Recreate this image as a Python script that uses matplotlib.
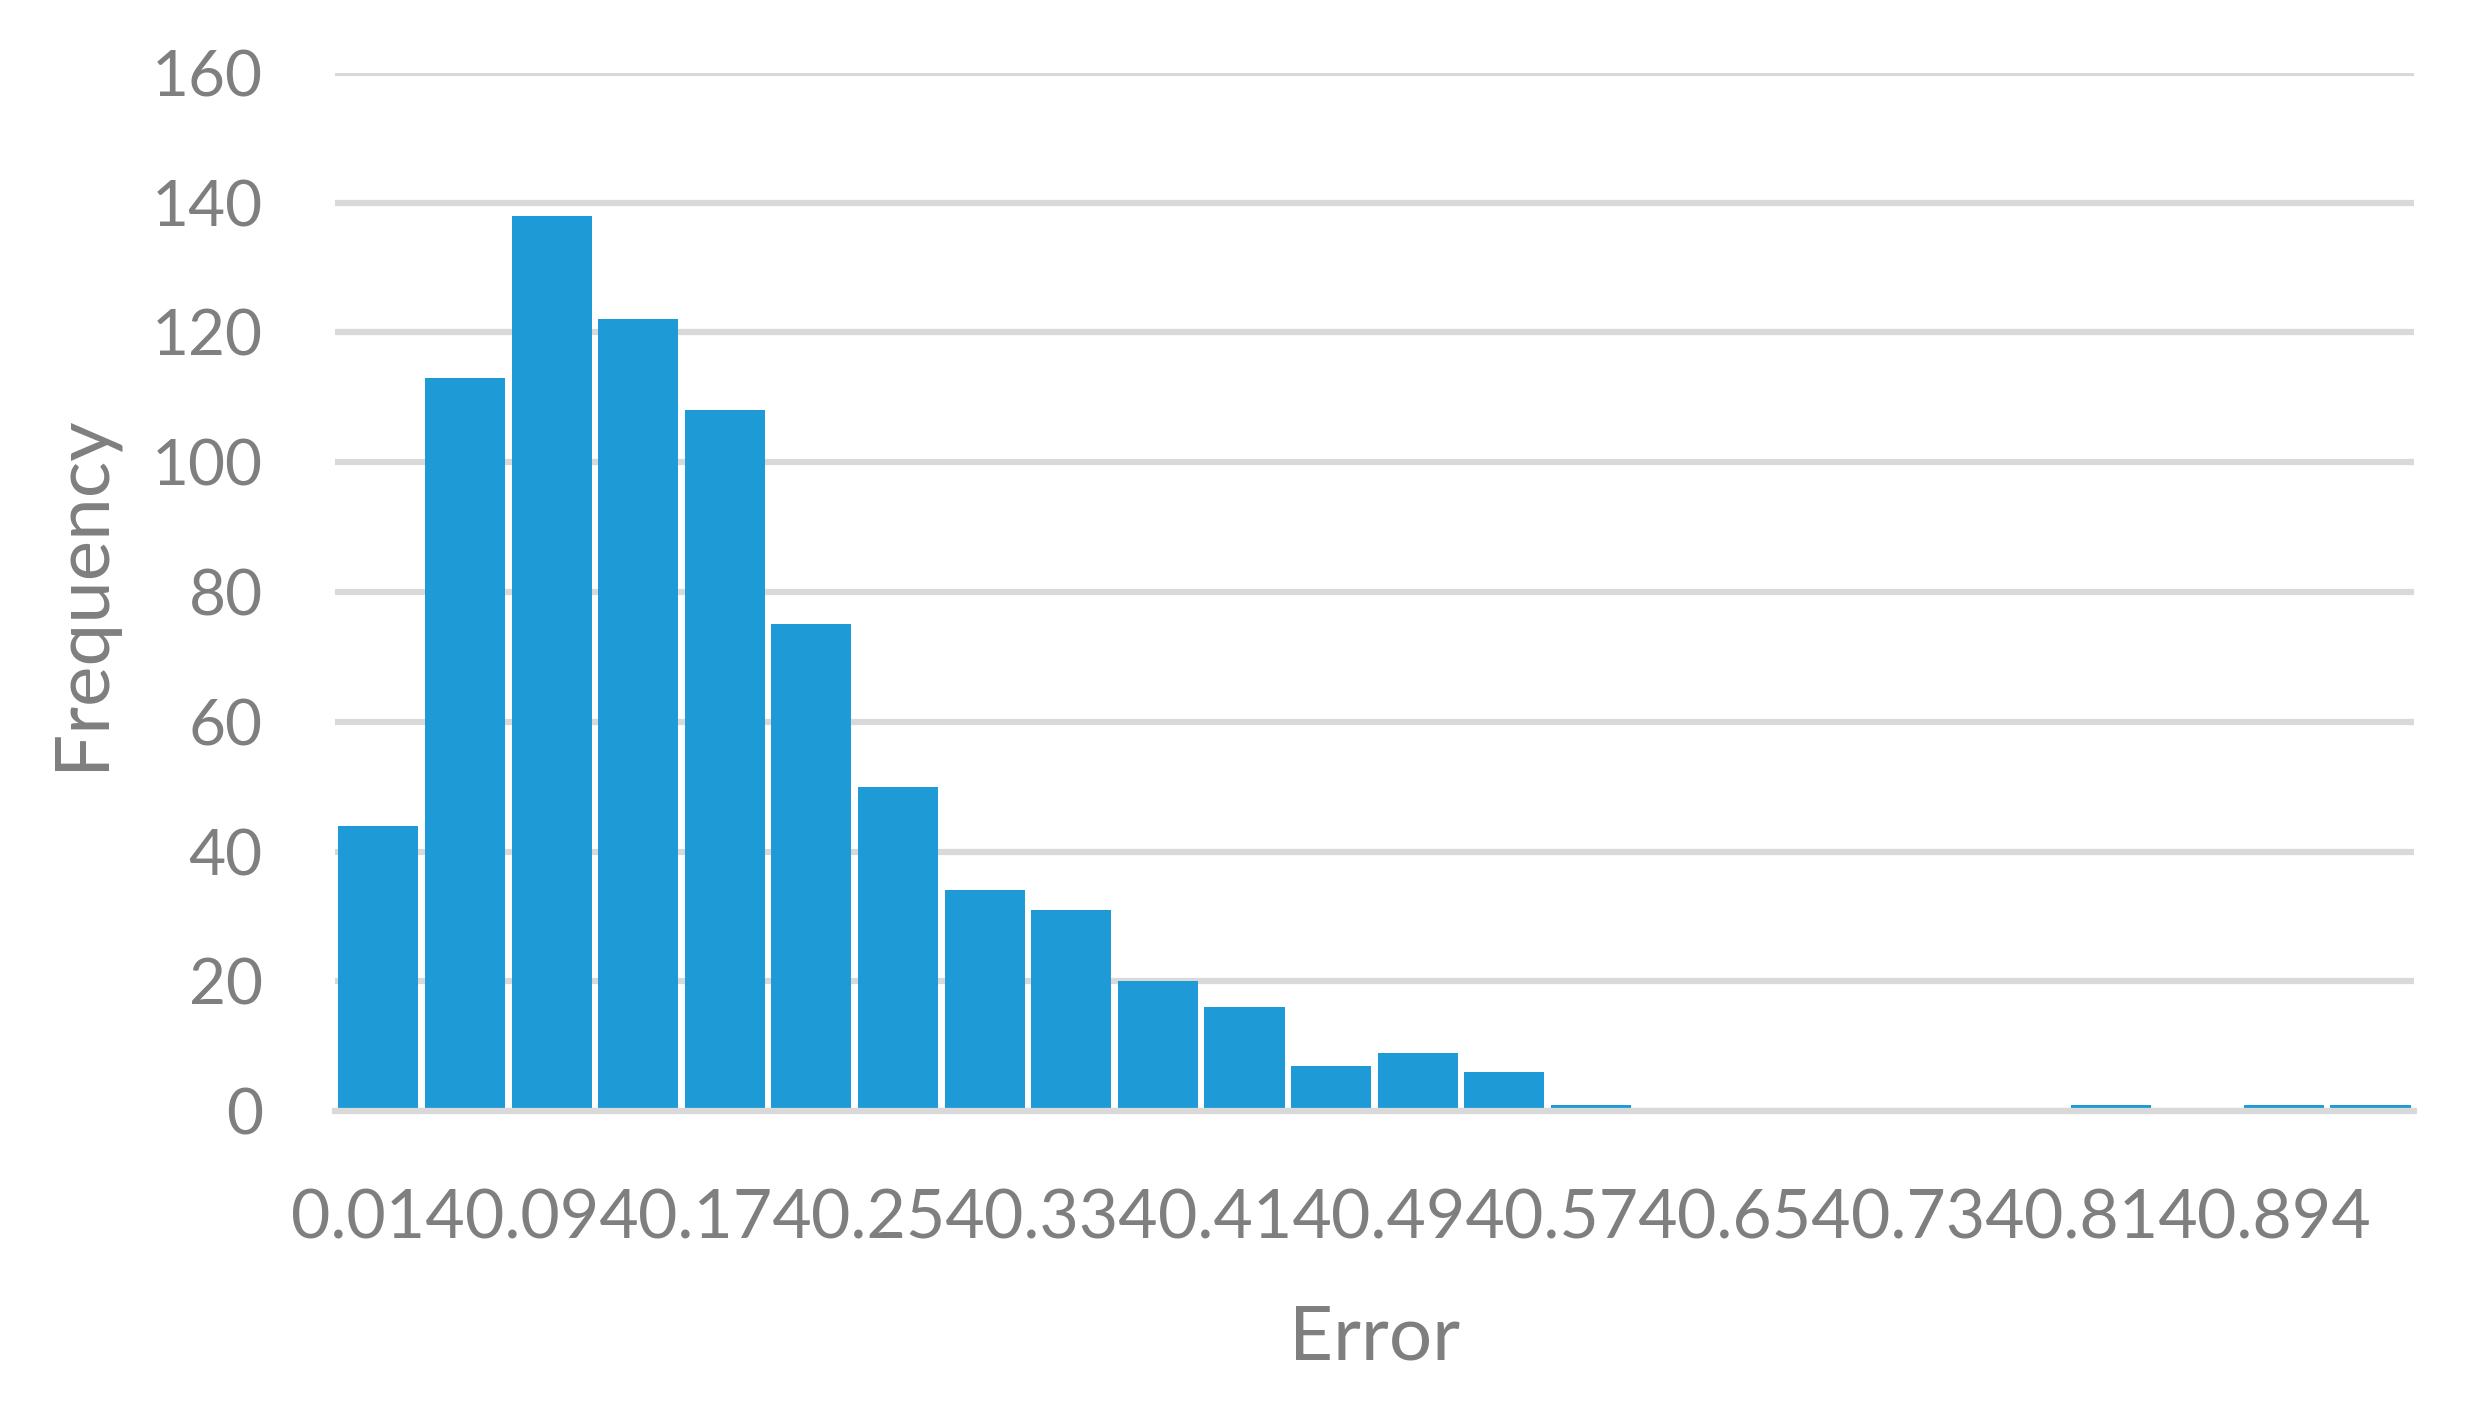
import matplotlib.pyplot as plt
import numpy as np

# histogram of errors (bin start labels every 0.04)
bins = ['0.014', '0.054', '0.094', '0.134', '0.174', '0.214', '0.254', '0.294',
        '0.334', '0.374', '0.414', '0.454', '0.494', '0.534', '0.574', '0.614',
        '0.654', '0.694', '0.734', '0.774', '0.814', '0.854', '0.894', '0.934']
freq = [44, 113, 138, 122, 108, 75, 50, 34, 31, 20, 16, 7, 9, 6, 1,
        0, 0, 0, 0, 0, 1, 0, 1, 1]
yticks = [0, 20, 40, 60, 80, 100, 120, 140, 160]

plt.rcParams['font.family'] = ['Lato', 'DejaVu Sans']
grey = '#7f7f7f'

fig = plt.figure(figsize=(24.91, 14.19), dpi=100)
ax = fig.add_axes([0.1345, 0.217, 0.8345, 0.7316])

x = np.arange(len(freq))
ax.bar(x, freq, width=0.925, color='#1e9bd7', zorder=3)

ax.set_xlim(-0.5, len(freq) - 0.5)
ax.set_ylim(0, 160)
ax.set_yticks(yticks)
ax.set_yticklabels([str(v) for v in yticks])
ax.yaxis.grid(True, color='#d9d9d9', linewidth=4.5, zorder=0)
ax.set_axisbelow(True)

ax.set_xticks(x[::2])
ax.set_xticklabels(bins[::2])

for s in ['top', 'right', 'left']:
    ax.spines[s].set_visible(False)
ax.spines['bottom'].set_color('#d9d9d9')
ax.spines['bottom'].set_linewidth(4.5)
ax.spines['bottom'].set_zorder(4)

ax.tick_params(axis='both', length=0, colors=grey)
ax.tick_params(axis='y', labelsize=46, pad=52)
ax.tick_params(axis='x', labelsize=49, pad=56)

ax.set_xlabel('Error', fontsize=55, color=grey, labelpad=38)
ax.set_ylabel('Frequency', fontsize=55, color=grey, labelpad=26)

fig.savefig('out.png', dpi=100)
